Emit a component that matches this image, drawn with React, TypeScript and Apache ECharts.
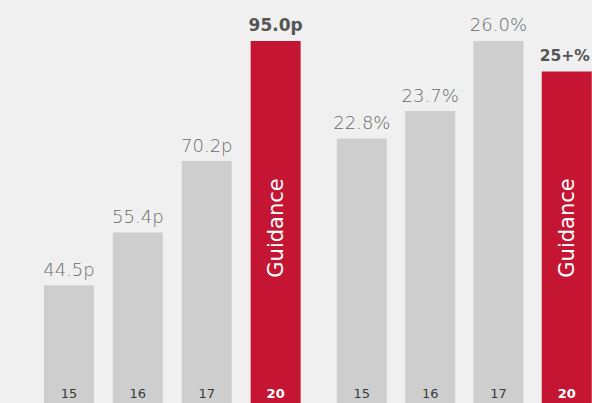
import React, { useEffect, useRef } from 'react';
import * as echarts from 'echarts';

const categories = ['15', '16', '17', '20'];
const epsValues = [44.5, 55.4, 70.2, 95.0];
const epsLabels = ['44.5p', '55.4p', '70.2p', '95.0p'];
const marginValues = [22.8, 23.7, 26.0, 25.0];
const marginLabels = ['22.8%', '23.7%', '26.0%', '25+%'];
const guidanceIndex = 3;
const guidanceText = 'Guidance';

export default function App() {
  const ref = useRef<HTMLDivElement>(null);
  useEffect(() => {
    document.body.style.margin = '0';
    document.body.style.background = '#f0f0f0';
    document.body.style.overflow = 'hidden';
    const chart = echarts.init(ref.current!, null, { renderer: 'svg' });
    const GRAY = '#cecece';
    const RED = '#c41632';
    const font = 'DejaVu Sans';
    const mkData = (vals: number[], boldSize: number, dx: number) =>
      vals.map((v, i) => ({
        value: v,
        itemStyle: { color: i === guidanceIndex ? RED : GRAY },
        label:
          i === guidanceIndex
            ? { fontWeight: 'bold', color: '#555555', fontSize: boldSize, offset: [dx, 0] }
            : undefined,
      }));
    const xAxisBase = (gi: number) => ({
      type: 'category',
      gridIndex: gi,
      data: categories,
      z: 10,
      axisLine: { show: false },
      axisTick: { show: false },
      axisLabel: {
        inside: true,
        interval: 0,
        margin: 20,
        formatter: (v: string, i: number) => (i === guidanceIndex ? `{b|${v}}` : `{n|${v}}`),
        rich: {
          b: { color: '#ffffff', fontWeight: 'bold', fontFamily: font, fontSize: 13 },
          n: { color: '#3a3a3a', fontFamily: font, fontSize: 13 },
        },
      },
    });
    const labelBase = (labels: string[]) => ({
      show: true,
      position: 'top',
      distance: 7,
      fontFamily: font,
      fontSize: 18,
      fontWeight: 300,
      color: '#6a6a6a',
      formatter: (p: any) => labels[p.dataIndex],
    });
    chart.setOption({
      animation: false,
      backgroundColor: '#f0f0f0',
      grid: [
        { left: 34.5, width: 275.6, top: 0, height: 420 },
        { left: 327.7, width: 273.2, top: 0, height: 420 },
      ],
      xAxis: [xAxisBase(0), xAxisBase(1)],
      yAxis: [
        { type: 'value', gridIndex: 0, min: 16.68, max: 103.47, show: false },
        { type: 'value', gridIndex: 1, min: 13.566, max: 27.341, show: false },
      ],
      series: [
        {
          type: 'bar',
          xAxisIndex: 0,
          yAxisIndex: 0,
          barWidth: 50,
          data: mkData(epsValues, 17, 0),
          label: labelBase(epsLabels),
        },
        {
          type: 'bar',
          xAxisIndex: 1,
          yAxisIndex: 1,
          barWidth: 50,
          data: mkData(marginValues, 15.5, -2),
          label: labelBase(marginLabels),
        },
      ],
    });
    const xL = chart.convertToPixel({ xAxisIndex: 0 }, categories[guidanceIndex]) as number;
    const xR = chart.convertToPixel({ xAxisIndex: 1 }, categories[guidanceIndex]) as number;
    const gText = (x: number) => ({
      type: 'text',
      x,
      y: 228,
      z: 100,
      rotation: Math.PI / 2,
      style: {
        text: guidanceText,
        fill: '#ffffff',
        fontFamily: font,
        fontSize: 21,
        align: 'center',
        verticalAlign: 'middle',
      },
    });
    chart.setOption({ graphic: [gText(xL), gText(xR)] });
    return () => chart.dispose();
  }, []);
  return <div ref={ref} style={{ position: 'fixed', left: 0, top: 0, width: 620, height: 420 }} />;
}
